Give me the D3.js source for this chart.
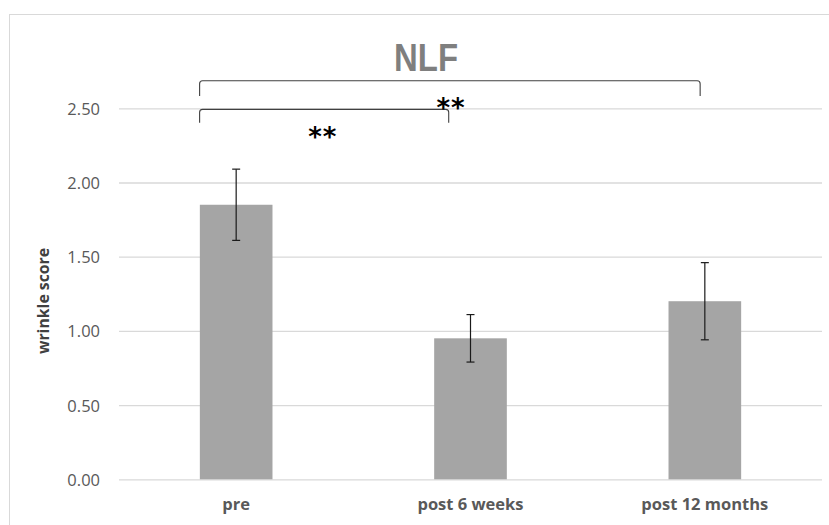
<!DOCTYPE html>
<html>
<head>
<meta charset="utf-8">
<script src="https://cdn.jsdelivr.net/npm/d3@7"></script>
<style>
  body { margin: 0; background: #fff; }
  svg { display: block; font-family: 'Open Sans', 'Liberation Sans', sans-serif; }
</style>
</head>
<body>
<svg id="chart" width="829" height="525"></svg>
<script>
const categories = ['pre', 'post 6 weeks', 'post 12 months']
const means = [1.85, 0.95, 1.20]
const errors = [0.24, 0.16, 0.26]
const yTicks = [0, 0.5, 1, 1.5, 2, 2.5]

// significance brackets, x in category-index units, y in score units
const brackets = [
  { from: -0.156, to: 1.98, top: 2.686, foot: 2.583 },
  { from: -0.156, to: 0.907, top: 2.493, foot: 2.403 }
]
const stars = [
  { label: '**', at: 0.917, y: 2.54 },
  { label: '**', at: 0.37, y: 2.35 }
]

const svg = d3.select('#chart')
const margin = { left: 119, right: 7, top: 108, bottom: 46 }
const width = 829, height = 525

// outer chart frame
svg.append('rect')
  .attr('x', 9.5).attr('y', 14.5)
  .attr('width', 840).attr('height', 540)
  .attr('fill', 'none').attr('stroke', '#d9d9d9')

const x = d3.scaleBand()
  .domain(categories)
  .range([margin.left, width - margin.right])
  .paddingInner(0.69).paddingOuter(0.345)

const idx = d3.scaleLinear()
  .domain([0, 1])
  .range([x(categories[0]) + x.bandwidth() / 2, x(categories[1]) + x.bandwidth() / 2])

const y = d3.scaleLinear()
  .domain([0, 2.5])
  .range([479.3, 108.3])

// gridlines + y labels
const yAxis = d3.axisLeft(y)
  .tickValues(yTicks)
  .tickFormat(d3.format('.2f'))
  .tickSize(-(width - margin.right - margin.left))
  .tickPadding(19)

const gy = svg.append('g')
  .attr('transform', `translate(${margin.left},0)`)
  .call(yAxis)
gy.select('.domain').remove()
gy.selectAll('.tick line').attr('stroke', '#d9d9d9').attr('stroke-width', 1.3)
gy.selectAll('.tick text')
  .attr('fill', '#595959')
  .attr('dy', '0.36em')
  .style('font-size', '16.5px')
  .style('font-family', "'Open Sans', sans-serif")

// bars
svg.append('g').selectAll('rect')
  .data(categories)
  .join('rect')
  .attr('x', d => x(d))
  .attr('width', x.bandwidth())
  .attr('y', (d, i) => y(means[i]))
  .attr('height', (d, i) => y(0) - y(means[i]))
  .attr('fill', '#a5a5a5')

// error bars
const eb = svg.append('g').attr('stroke', '#1a1a1a').attr('stroke-width', 1.2)
categories.forEach((c, i) => {
  const cx = x(c) + x.bandwidth() / 2
  const hi = y(means[i] + errors[i]), lo = y(means[i] - errors[i])
  eb.append('line').attr('x1', cx).attr('x2', cx).attr('y1', hi).attr('y2', lo)
  eb.append('line').attr('x1', cx - 4).attr('x2', cx + 4).attr('y1', hi).attr('y2', hi)
  eb.append('line').attr('x1', cx - 4).attr('x2', cx + 4).attr('y1', lo).attr('y2', lo)
})

// x labels
svg.append('g').selectAll('text')
  .data(categories)
  .join('text')
  .attr('x', d => x(d) + x.bandwidth() / 2)
  .attr('y', 510)
  .attr('text-anchor', 'middle')
  .attr('fill', '#595959')
  .style('font-size', '16.5px')
  .style('font-weight', 'bold')
  .text(d => d)

// y title
svg.append('text')
  .attr('transform', 'translate(49,301) rotate(-90)')
  .attr('text-anchor', 'middle')
  .attr('fill', '#404040')
  .style('font-size', '15.8px')
  .style('font-weight', 'bold')
  .text('wrinkle score')

// title
svg.append('text')
  .attr('x', 426)
  .attr('y', 71)
  .attr('text-anchor', 'middle')
  .attr('fill', '#7f7f7f')
  .style('font-size', '38px')
  .style('font-weight', 'bold')
  .style('font-family', "'Liberation Sans Narrow', 'Liberation Sans', sans-serif")
  .attr('textLength', 64)
  .attr('lengthAdjust', 'spacingAndGlyphs')
  .text('NLF')

// brackets
const r = 3
svg.append('g').selectAll('path')
  .data(brackets)
  .join('path')
  .attr('fill', 'none')
  .attr('stroke', '#404040')
  .attr('stroke-width', 1.1)
  .attr('d', b => {
    const x0 = idx(b.from), x1 = idx(b.to), yt = y(b.top), yf = y(b.foot)
    return `M${x0},${yf} L${x0},${yt + r} Q${x0},${yt} ${x0 + r},${yt} ` +
      `L${x1 - r},${yt} Q${x1},${yt} ${x1},${yt + r} L${x1},${yf}`
  })

svg.append('g').selectAll('text')
  .data(stars)
  .join('text')
  .attr('x', d => idx(d.at))
  .attr('y', d => y(d.y) + 15)
  .attr('text-anchor', 'middle')
  .attr('fill', '#000')
  .style('font-size', '26px')
  .style('font-weight', 'bold')
  .style('font-family', "'DejaVu Sans', sans-serif")
  .attr('letter-spacing', '1px')
  .text(d => d.label)
</script>
</body>
</html>
